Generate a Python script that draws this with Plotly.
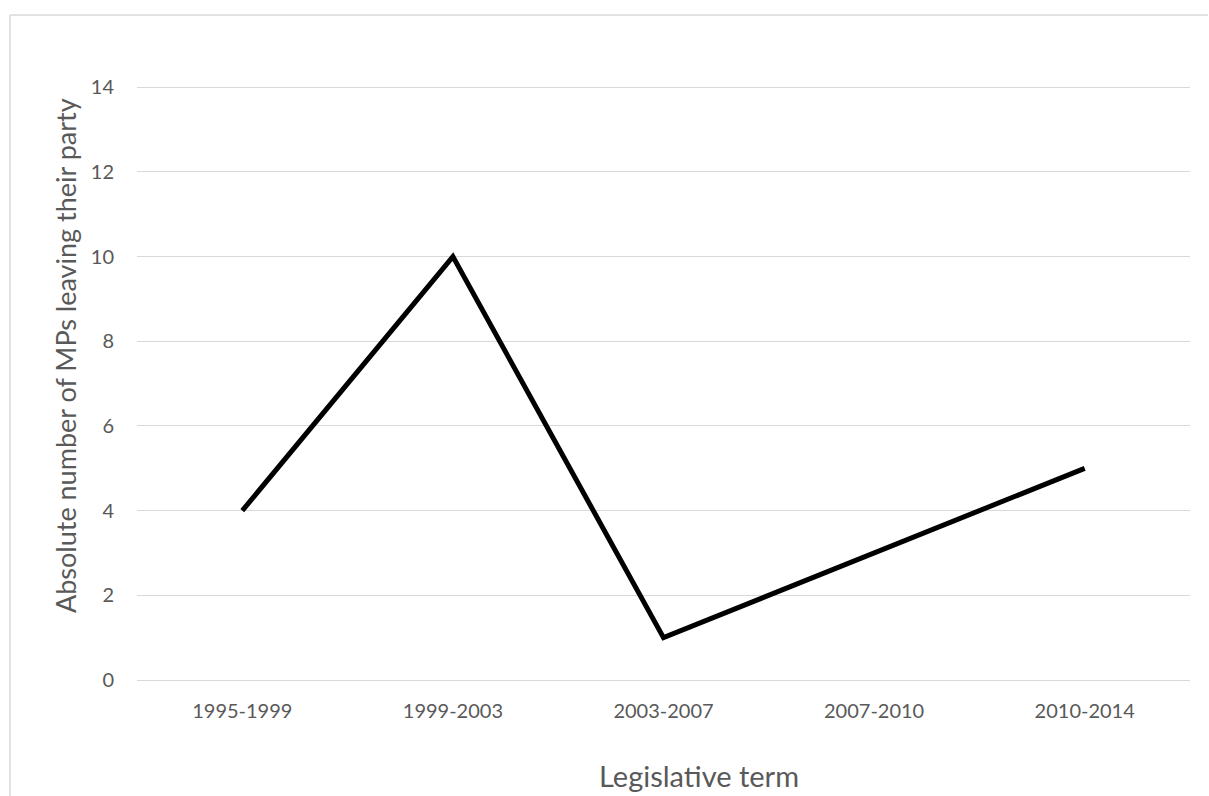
import plotly.graph_objects as go

terms = ["1995-1999", "1999-2003", "2003-2007", "2007-2010", "2010-2014"]
mps_leaving = [4, 10, 1, 3, 5]
y_ticks = [0, 2, 4, 6, 8, 10, 12, 14]

W, H = 1209, 796
L, R, T, B = 137, 19, 86, 116
pw, ph = W - L - R, H - T - B

fig = go.Figure(go.Scatter(
    x=terms, y=mps_leaving, mode="lines",
    line=dict(color="black", width=5),
    hoverinfo="x+y",
))

font_family = "Lato, 'Open Sans', sans-serif"
grey = "#595959"
border = dict(color="#d9d9d9", width=1.5)
bx0 = (10 - L) / pw
by1 = (T + ph - 15) / ph
fig.update_layout(
    width=W, height=H,
    margin=dict(l=L, r=R, t=T, b=B, autoexpand=False),
    paper_bgcolor="white", plot_bgcolor="white",
    showlegend=False,
    font=dict(family=font_family, color=grey),
    xaxis=dict(
        type="category", range=[-0.5, 4.5], automargin=False,
        showgrid=False, showline=False, zeroline=False, ticks="",
        tickfont=dict(size=20, color=grey),
        ticklabelstandoff=17,
    ),
    yaxis=dict(
        range=[0, 14.03], tickvals=y_ticks, automargin=False,
        showgrid=True, gridcolor="#d9d9d9", gridwidth=1.3,
        zeroline=True, zerolinecolor="#d9d9d9", zerolinewidth=1.3,
        showline=False, ticks="",
        tickfont=dict(size=20, color=grey),
        ticklabelstandoff=22,
    ),
    annotations=[
        dict(text="Legislative term", xref="paper", yref="paper",
             x=(699 - L) / pw, y=(T + ph - 775) / ph,
             xanchor="center", yanchor="middle", showarrow=False,
             font=dict(size=29, color=grey)),
        dict(text="Absolute number of MPs leaving their party", xref="paper", yref="paper",
             x=(65 - L) / pw, y=(T + ph - 356) / ph, textangle=-90,
             xanchor="center", yanchor="middle", showarrow=False,
             font=dict(size=27, color=grey)),
    ],
    shapes=[
        dict(type="line", xref="paper", yref="paper",
             x0=bx0, x1=(1208 - L) / pw, y0=by1, y1=by1, line=border, layer="below"),
        dict(type="line", xref="paper", yref="paper",
             x0=bx0, x1=bx0, y0=-1, y1=by1, line=border, layer="below"),
    ],
)

# remove the default page margin so the figure fills the window exactly
fig.write_html(
    "out.html",
    config={"displayModeBar": False},
    post_script="document.body.style.margin='0';document.body.style.overflow='hidden';",
)
